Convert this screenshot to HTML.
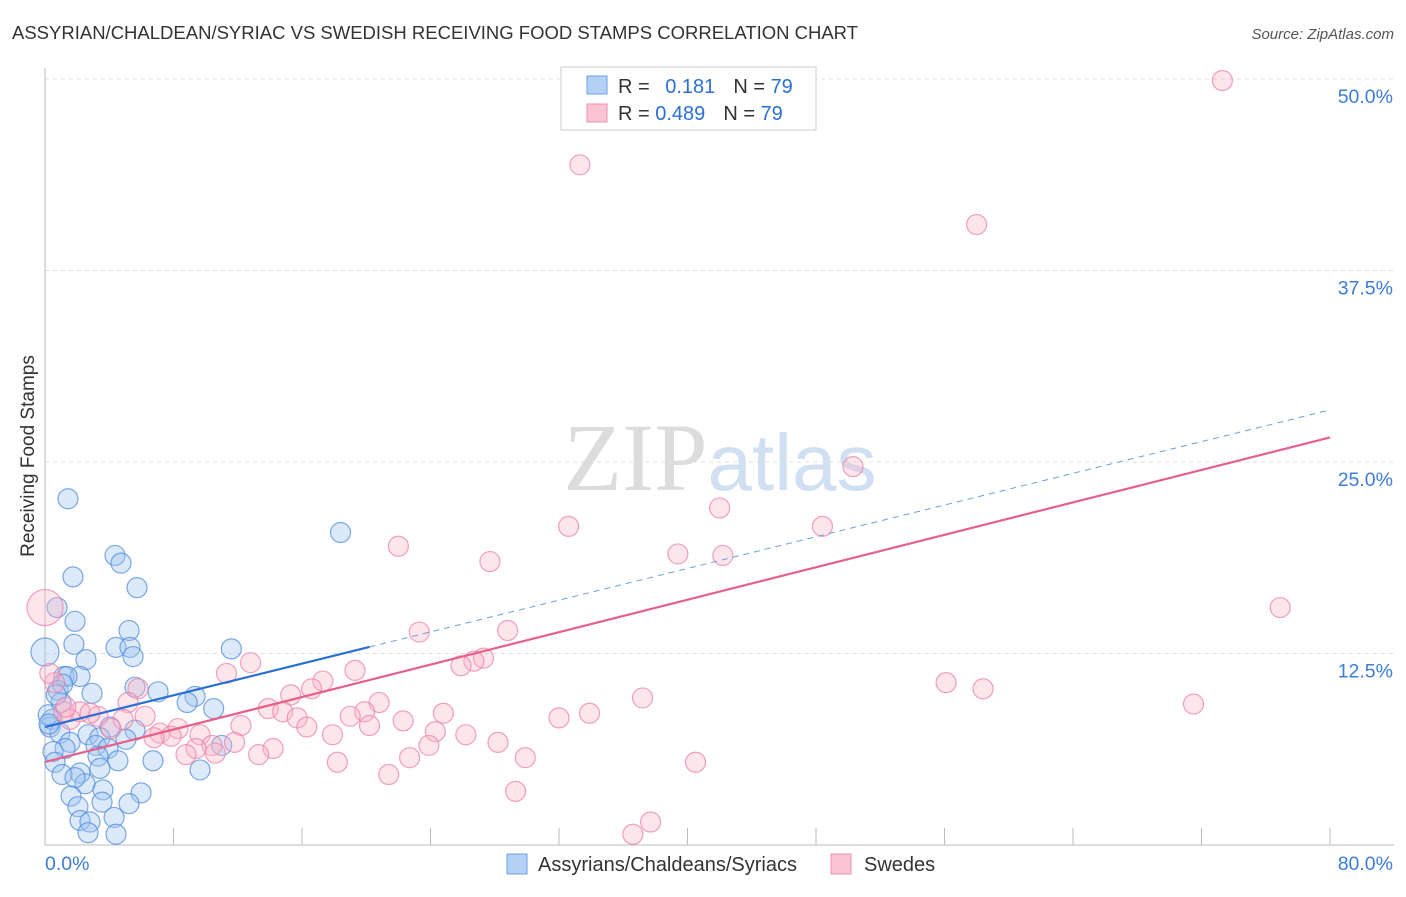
<!DOCTYPE html>
<html><head><meta charset="utf-8"><style>
body{margin:0;background:#fff;font-family:"Liberation Sans",sans-serif}
svg text{font-family:"Liberation Sans",sans-serif}
</style></head><body>
<svg id="c" width="1406" height="892" xmlns="http://www.w3.org/2000/svg">
<text x="12" y="39" font-size="18.5" fill="#333">ASSYRIAN/CHALDEAN/SYRIAC VS SWEDISH RECEIVING FOOD STAMPS CORRELATION CHART</text>
<text x="1394" y="39" font-size="15" fill="#555" text-anchor="end" font-style="italic">Source: ZipAtlas.com</text>
<text transform="translate(34,456) rotate(-90)" font-size="19" fill="#333" text-anchor="middle">Receiving Food Stamps</text>
<text x="720" y="490" font-size="96" text-anchor="middle"><tspan fill="#dcdcdc" font-family="Liberation Serif">ZIP</tspan><tspan fill="#d0e0f2" font-size="80">atlas</tspan></text>
<g id="grid"></g><g id="marks"></g><g id="lines"></g>
<g>
<rect x="561" y="67" width="255" height="63" fill="#fff" stroke="#ccc"/>
<rect x="587" y="76" width="20" height="18" fill="#b5d0f5" stroke="#6a9fe0"/>
<rect x="587" y="104" width="20" height="18" fill="#fac4d4" stroke="#f090b0"/>
<text x="618" y="93" font-size="20" fill="#333">R = <tspan fill="#2a6fd6" dx="10">0.181</tspan><tspan dx="18">N = </tspan><tspan fill="#2a6fd6">79</tspan></text>
<text x="618" y="120" font-size="20" fill="#333">R = <tspan fill="#2a6fd6">0.489</tspan><tspan dx="18">N = </tspan><tspan fill="#2a6fd6">79</tspan></text>
</g>
<g>
<rect x="507" y="854" width="20" height="20" fill="#b5d0f5" stroke="#6a9fe0"/>
<text x="538" y="871" font-size="20" fill="#333">Assyrians/Chaldeans/Syriacs</text>
<rect x="831" y="854" width="20" height="20" fill="#fac4d4" stroke="#f090b0"/>
<text x="864" y="871" font-size="20" fill="#333">Swedes</text>
</g>
</svg>
<script>
const yTicks=[12.5,25.0,37.5,50.0];
const yTickLabels=["12.5%","25.0%","37.5%","50.0%"];
const xEndLabels=["0.0%","80.0%"];
const blueX=[1.43,18.4,4.36,4.73,1.74,5.73,0.75,1.87,5.23,1.80,4.42,5.29,11.6,0,5.48,2.55,1.18,2.18,1.37,0.81,2.93,5.60,7.04,9.34,8.85,1.0,10.5,0.44,0.31,4.05,5.60,0.93,2.68,3.42,5.04,1.56,3.17,1.25,0.50,11.0,3.92,6.72,4.54,3.30,0.62,2.18,1.06,3.42,9.65,2.49,1.87,3.61,5.98,1.62,3.55,5.23,2.05,4.30,2.18,2.80,2.68,4.42,0.2,0.25,1.1,0.7];
const blueY=[22.6,20.4,18.9,18.4,17.5,16.8,15.5,14.6,14.0,13.1,12.9,12.9,12.8,12.6,12.3,12.1,11.0,11.0,11.0,10.1,9.9,10.3,10.0,9.7,9.3,9.3,8.9,8.2,7.7,7.7,7.5,7.3,7.2,7.0,6.9,6.7,6.5,6.3,6.1,6.5,6.3,5.5,5.5,5.8,5.4,4.7,4.6,5.0,4.9,4.0,4.4,3.6,3.4,3.2,2.8,2.7,2.5,1.8,1.6,1.5,0.8,0.7,8.5,7.9,10.5,9.8];
const pinkX=[73.3,33.3,58.0,50.3,42.0,32.6,48.4,22.0,39.4,42.2,27.7,0,76.9,23.3,28.8,12.8,27.3,26.7,25.9,19.3,11.3,17.3,5.79,16.6,56.1,58.4,15.3,37.2,20.8,5.17,71.5,13.9,19.9,14.8,1.18,3.30,24.8,19.0,33.9,32.0,15.7,6.23,22.3,4.86,12.2,16.3,20.2,8.28,4.11,24.3,7.16,17.9,7.85,6.79,9.65,26.2,11.8,28.2,23.9,10.4,9.40,14.2,10.6,8.78,13.3,22.7,29.9,18.2,40.5,21.4,29.3,37.7,36.6,2.18,2.80,1.56,0.6,1.3,0.3];
const pinkY=[49.9,44.4,40.5,24.7,22.0,20.8,20.8,19.5,19.0,18.9,18.5,15.5,15.5,13.9,14.0,11.9,12.2,12.0,11.7,11.4,11.2,10.7,10.2,10.2,10.6,10.2,9.8,9.6,9.3,9.3,9.2,8.9,8.7,8.7,8.7,8.4,8.6,8.4,8.6,8.3,8.3,8.4,8.1,8.2,7.8,7.7,7.8,7.6,7.6,7.4,7.3,7.2,7.1,7.0,7.2,7.2,6.7,6.7,6.5,6.5,6.3,6.3,6.0,5.9,5.9,5.7,5.7,5.4,5.4,4.6,3.5,1.5,0.7,8.7,8.6,8.2,10.6,9.0,11.2];
const blueTrend=[7.70,28.4];
const pinkTrend=[5.42,26.6];
const blueSolidEnd=20.2;
const NS="http://www.w3.org/2000/svg";
const L=45,R=1330,B=845,T=79;
function sx(v){return L+v/80*(R-L);}
function sy(v){return B-v/50*(B-T);}
function mk(tag,attrs,parent){const e=document.createElementNS(NS,tag);for(const k in attrs)e.setAttribute(k,attrs[k]);document.getElementById(parent).appendChild(e);return e;}
yTicks.forEach((t,i)=>{
 const g=mk('line',{x1:L,x2:1394,y1:sy(t),y2:sy(t),stroke:'#ddd','stroke-dasharray':'4,4'},'grid');
 
 
 const tx=mk('text',{x:1393,y:sy(t)+24,'font-size':19.5,fill:'#3b7dd8','text-anchor':'end'},'grid');
 tx.textContent=yTickLabels[i];
 
 
});
let ax=mk('line',{x1:L,x2:L,y1:68,y2:B,stroke:'#bbb'},'grid');


ax=mk('line',{x1:L,x2:1394,y1:B,y2:B,stroke:'#bbb'},'grid');


for(let v=0;v<=80;v+=8){
 const t=mk('line',{x1:sx(v),x2:sx(v),y1:828,y2:B,stroke:'#bbb'},'grid');
 
 
}
[[0,'start',45],[80,'end',1393]].forEach((d,i)=>{
 const tx=mk('text',{x:d[2],y:870,'font-size':19.5,fill:'#3b7dd8','text-anchor':d[1]},'grid');
 tx.textContent=xEndLabels[i];
 
 
});
function pts(X,Y,fill,stroke,name){
 X.forEach((x,i)=>{
  let r=10;
  if(i===X.indexOf(0)&&x===0) r=(name==='pink-point')?18:14;
  const c=mk('circle',{cx:sx(x),cy:sy(Y[i]),r:r,fill:fill,stroke:stroke,'stroke-width':1.2},'marks');
  
  
 });
}
pts(blueX,blueY,'rgba(160,196,240,0.38)','rgba(80,140,220,0.75)','blue-point');
pts(pinkX,pinkY,'rgba(248,180,200,0.35)','rgba(236,130,165,0.75)','pink-point');
function tl(tr,x0,x1,color,dash,w,name){
 const f=v=>tr[0]+(tr[1]-tr[0])*v/80;
 const l=mk('line',{x1:sx(x0),y1:sy(f(x0)),x2:sx(x1),y2:sy(f(x1)),stroke:color,'stroke-width':w},'lines');
 if(dash)l.setAttribute('stroke-dasharray',dash);
 
 
}
tl(blueTrend,0,blueSolidEnd,'#2a6fd6',null,2.2,'blue-trendline');
tl(blueTrend,blueSolidEnd,80,'#6a9fe0','6,5',1,'blue-trendline-extension');
tl(pinkTrend,0,80,'#e8608a',null,2.2,'pink-trendline');
</script>
</body></html>
